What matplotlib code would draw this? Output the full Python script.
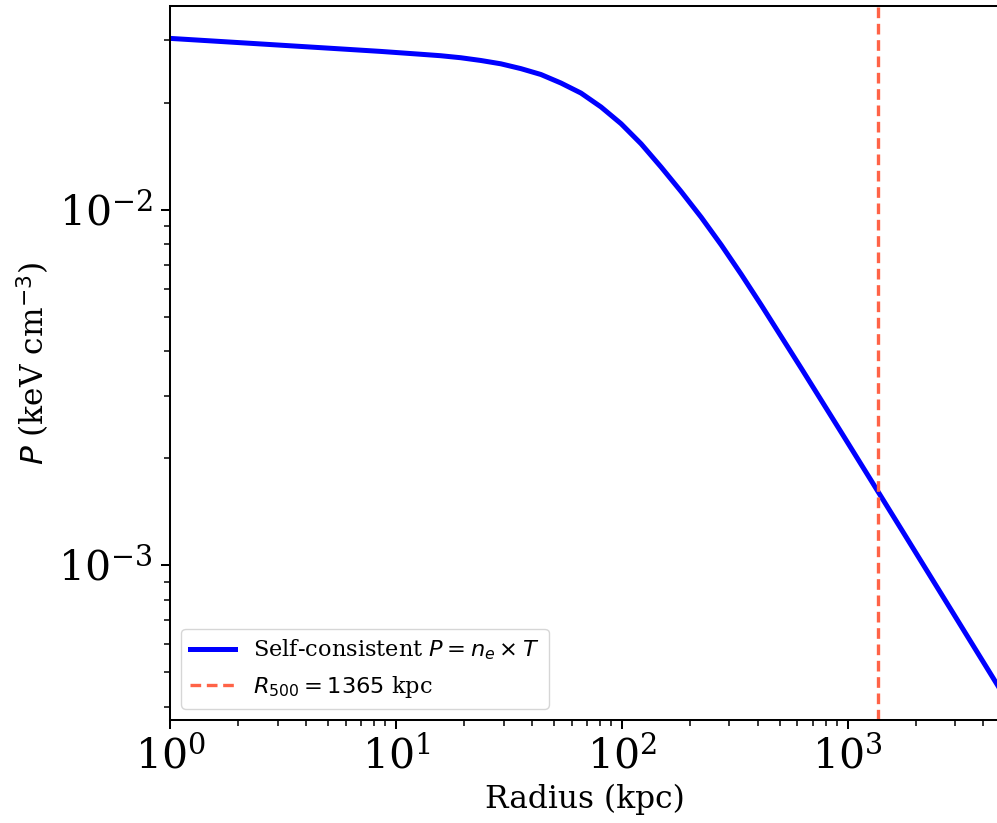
import numpy as np
import matplotlib
matplotlib.use("Agg")
import matplotlib.pyplot as plt

plt.rcParams['font.family'] = 'serif'
plt.rcParams['font.serif'] = ['DejaVu Serif']
plt.rcParams['mathtext.fontset'] = 'dejavusans'

# pressure profile, radius in kpc, P in keV cm^-3
radius = [1, 2.265, 5.13, 8.55, 12.87, 15.8, 19.38, 23.77, 29.15, 35.77,
          43.88, 53.83, 66.03, 81.0, 99.4, 121.9, 149.6, 183.5, 225.1,
          276.2, 338.8, 415.6, 625.7, 941.6, 1279.4, 1739, 2897, 4685]
pressure = [0.03032, 0.02937, 0.02844, 0.02787, 0.02736, 0.02710, 0.02675,
            0.02628, 0.02572, 0.02493, 0.02400, 0.02271, 0.02128, 0.01945,
            0.01745, 0.01532, 0.01317, 0.01124, 0.009518, 0.007955,
            0.006572, 0.005385, 0.003572, 0.002357, 0.001722, 0.001257,
            7.438e-4, 4.534e-4]
r500 = 1365

fig = plt.figure(figsize=(9.97, 8.23), dpi=100)
ax = fig.add_axes([0.1705, 0.1252, 0.8315, 0.8676])

ax.plot(radius, pressure, color='blue', lw=3.6,
        label=r'Self-consistent $P = n_e \times T$')
ax.axvline(r500, color='tomato', ls='--', lw=2.4, dashes=(3.2, 1.7),
           label=r'$R_{500} = %d$ kpc' % r500)

ax.set_xscale('log')
ax.set_yscale('log')
ax.set_xlim(radius[0], radius[-1])

ax.set_xlabel('Radius (kpc)', fontsize=22.5)
ax.set_ylabel(r'$P$ (keV cm$^{-3}$)', fontsize=22.5)

for s in ax.spines.values():
    s.set_linewidth(1.45)
ax.tick_params(which='major', length=6.5, width=1.45, labelsize=29.5, pad=6)
ax.tick_params(which='minor', length=4, width=1.1)

ax.legend(loc='lower left', fontsize=16.2)

fig.savefig('out.png', dpi=100)
